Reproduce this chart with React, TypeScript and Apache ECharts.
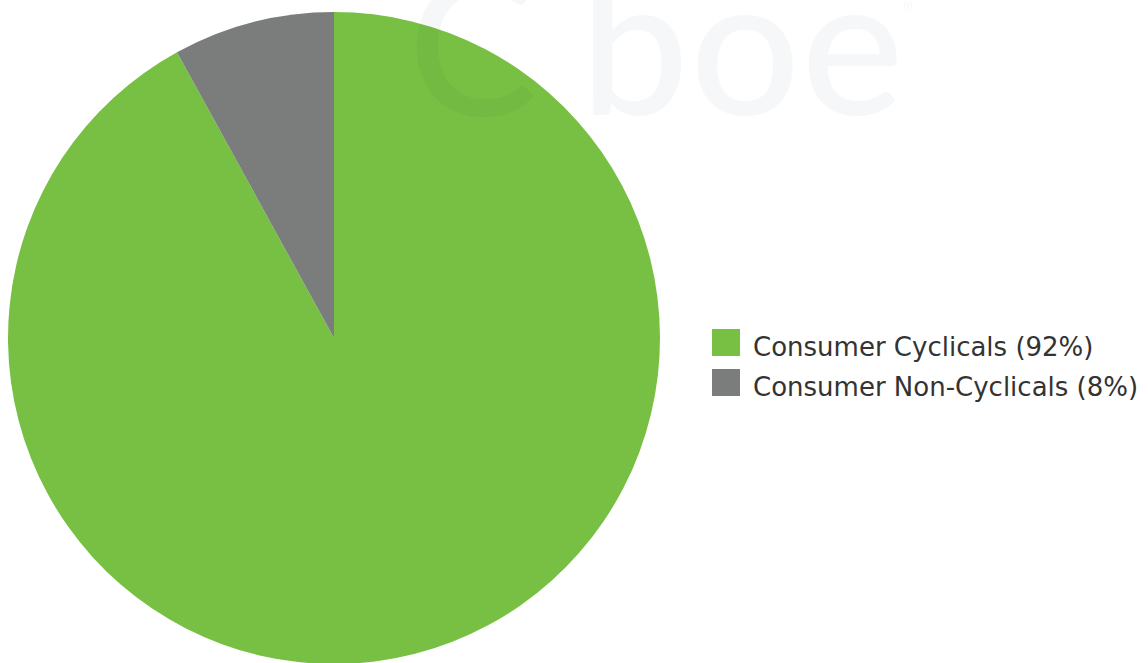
import React, { useEffect, useRef } from "react";
import * as echarts from "echarts";

const categories = ["Consumer Cyclicals", "Consumer Non-Cyclicals"];
const values = [92, 8];
const colors = ["#77c043", "#7b7c7c"];

const watermarkLetters = ["C", "b", "o", "e"];

export default function App() {
  const ref = useRef<HTMLDivElement>(null);
  useEffect(() => {
    if (!ref.current) return;
    const chart = echarts.init(ref.current, null, { renderer: "svg" });
    const total = values.reduce((a, b) => a + b, 0);
    const letterX = [408, 580, 690, 801];
    chart.setOption({
      animation: false,
      backgroundColor: "#ffffff",
      color: colors,
      legend: {
        orient: "vertical",
        left: 707,
        top: 324,
        itemWidth: 28,
        itemHeight: 27,
        itemGap: 9,
        icon: "rect",
        textStyle: {
          fontSize: 26,
          color: "#333333",
          fontFamily: "DejaVu Sans",
          padding: [0, 0, 0, 8],
          rich: {
            t: {
              fontSize: 26,
              color: "#333333",
              fontFamily: "DejaVu Sans",
              padding: [9, 0, 0, 0],
            },
          },
        },
        formatter: (name: string) => {
          const i = categories.indexOf(name);
          return `{t|${name} (${Math.round((values[i] / total) * 100)}%)}`;
        },
        data: categories,
      },
      graphic: [
        ...watermarkLetters.map((ch, i) => ({
          type: "text",
          z: 100,
          silent: true,
          style: {
            x: letterX[i],
            y: -57,
            text: ch,
            font: "500 194px Lato",
            fill: "rgba(20,40,80,0.04)",
          },
        })),
        {
          type: "text",
          z: 100,
          silent: true,
          style: {
            x: 903,
            y: -4,
            text: "®",
            font: "16px Lato",
            fill: "rgba(20,40,80,0.05)",
          },
        },
      ],
      series: [
        {
          type: "pie",
          center: [334, 338],
          radius: 326,
          startAngle: 90,
          clockwise: true,
          label: { show: false },
          labelLine: { show: false },
          itemStyle: { borderWidth: 0 },
          emphasis: { disabled: true },
          data: categories.map((c, i) => ({ name: c, value: values[i] })),
        },
      ],
    });
    return () => chart.dispose();
  }, []);
  return (
    <div
      ref={ref}
      style={{ position: "fixed", left: 0, top: 0, width: 1148, height: 663 }}
    />
  );
}
